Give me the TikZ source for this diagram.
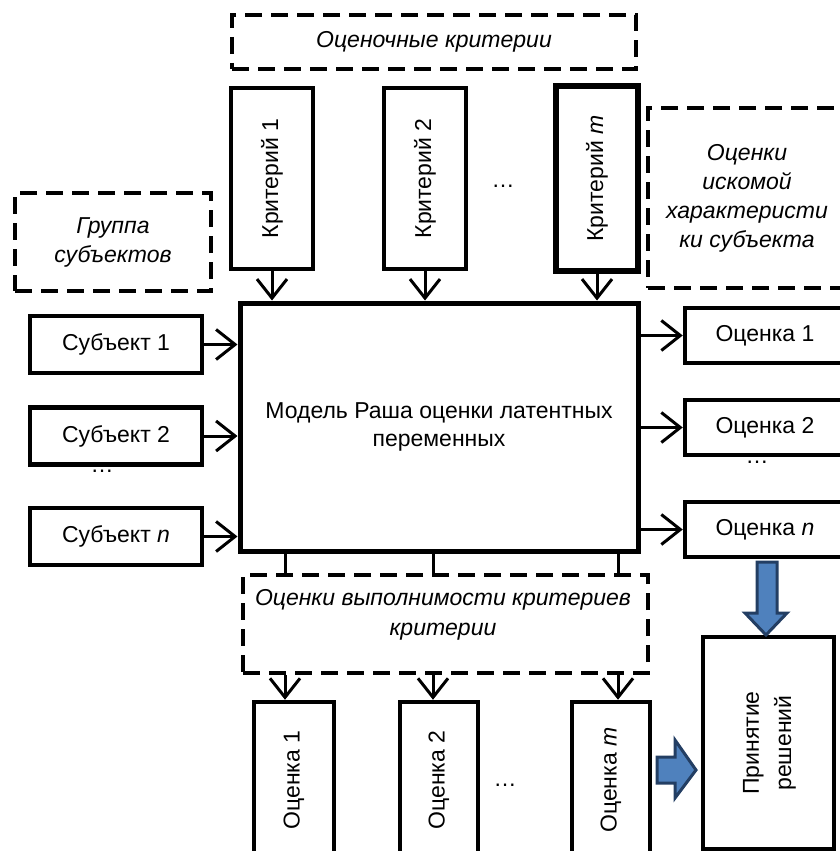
\documentclass[tikz,border=0pt]{standalone}
\usepackage{fontspec}
\usepackage{graphicx}
\setmainfont{Liberation Sans}
\usetikzlibrary{arrows.meta,calc}
\definecolor{arrowfill}{HTML}{4F81BD}
\definecolor{arrowedge}{HTML}{233E63}
\begin{document}
\begin{tikzpicture}[x=1pt,y=-1pt,
  every node/.style={font=\fontsize{23}{28}\selectfont, inner sep=0pt, align=center},
  solidbox/.style={draw, line width=4.5pt, fill=white},
  dashbox/.style={draw, line width=4pt, dash pattern=on 17pt off 9pt},
  italictext/.style={font=\fontsize{23}{29}\selectfont\itshape},
  arr/.style={line width=3pt, -{Straight Barb[length=19pt,width=30pt]}},
  link/.style={line width=3pt},
  bigarrow/.style={draw=arrowedge, fill=arrowfill, line width=3pt, line join=miter},
]
\useasboundingbox (0,0) rectangle (840,851);
\clip (0,0) rectangle (840,851);

% criteria
\node[dashbox, italictext, minimum width=404, minimum height=54] (crit) at (434,42) {Оценочные критерии};
\node[solidbox, minimum width=82, minimum height=181] (k1) at (272,178.5) {\rotatebox{90}{Критерий 1}};
\node[solidbox, minimum width=82, minimum height=181] (k2) at (425,178.5) {\rotatebox{90}{Критерий 2}};
\node[solidbox, line width=6pt, minimum width=82, minimum height=185] (km) at (597,178.5) {\rotatebox{90}{Критерий \textit{m}}};
\node (kdots) at (503,186) {…};

% model
\node[solidbox, line width=5pt, minimum width=398, minimum height=248] (model) at (439,427) {Модель Раша оценки латентных\\переменных};

% subjects
\node[dashbox, italictext, minimum width=196, minimum height=98] (grp) at (113,242) {Группа\\субъектов};
\node[solidbox, minimum width=172, minimum height=57] (s1) at (116,344.5) {Субъект 1};
\node[solidbox, minimum width=172, minimum height=57] (s2) at (116,436) {Субъект 2};
\node[solidbox, minimum width=172, minimum height=57] (sn) at (116,536.5) {Субъект \textit{n}};
\node (sdots) at (102,471) {…};

% subject ratings
\node[dashbox, italictext, minimum width=198, minimum height=180] (rbox) at (747,198) {Оценки\\искомой\\характеристи\\ки субъекта};
\node[solidbox, minimum width=160, minimum height=55] (o1) at (765,335.5) {Оценка 1};
\node[solidbox, minimum width=160, minimum height=55] (o2) at (765,427.5) {Оценка 2};
\node[solidbox, minimum width=160, minimum height=55] (on) at (765,529.5) {Оценка \textit{n}};
\node (odots) at (757,462) {…};

% criteria ratings
\node[dashbox, minimum width=405, minimum height=98] (fb) at (445.5,624) {};
\node[italictext, font=\fontsize{23}{30}\selectfont\itshape] (fbtext) at (443,615) {Оценки выполнимости критериев\\критерии};
\node[solidbox, minimum width=80, minimum height=156] (e1) at (294,780) {\rotatebox{90}{Оценка 1}};
\node[solidbox, minimum width=78, minimum height=156] (e2) at (439,780) {\rotatebox{90}{Оценка 2}};
\node[solidbox, minimum width=78, minimum height=156] (em) at (611,780) {\rotatebox{90}{Оценка \textit{m}}};
\node (edots) at (505,785) {…};

% decision
\node[solidbox, line width=4pt, minimum width=131, minimum height=212] (dec) at (768.5,743)
  {\rotatebox{90}{\def\arraystretch{1.15}\begin{tabular}{@{}c@{}}Принятие\\решений\end{tabular}}};

% connectors
\foreach \k in {k1,k2,km}
  \draw[arr] (\k.south) -- (\k.south |- model.north);
\foreach \s in {s1,s2,sn}
  \draw[arr] (\s.east) -- (\s.east -| model.west);
\foreach \o in {o1,o2,on}
  \draw[arr] (\o.west -| model.east) -- (\o.west);
\foreach \e/\dx in {e1/-9,e2/-6,em/7} {
  \draw[link] ([xshift=\dx pt]\e.north |- model.south) -- ([xshift=\dx pt]\e.north |- fb.north);
  \draw[arr] ([xshift=\dx pt]\e.north |- fb.south) -- ([xshift=\dx pt]\e.north);
}

% block arrows
\coordinate (rtip) at ($(dec.west)+(-5,27)$);
\draw[bigarrow] (657,757) -- (675,757) -- (675,740) -- (rtip) -- (675,798) -- (675,783) -- (657,783) -- cycle;
\coordinate (dtip) at (dec.north -| 766,0);
\draw[bigarrow] (757,562) -- (777,562) -- (777,613) -- (787,613) -- (dtip) -- (745,613) -- (757,613) -- cycle;
\end{tikzpicture}
\end{document}
